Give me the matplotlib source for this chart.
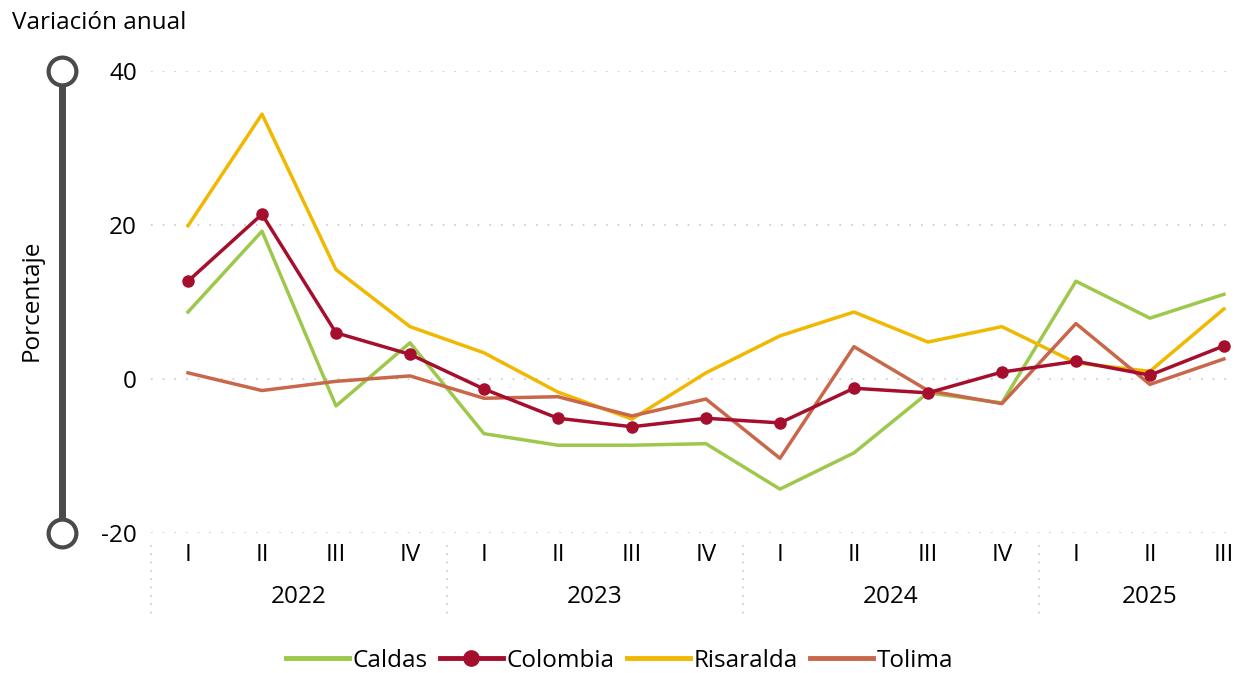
import matplotlib.pyplot as plt
import numpy as np
from matplotlib.lines import Line2D

plt.rcParams['font.family'] = ['Open Sans', 'DejaVu Sans']
plt.rcParams['axes.unicode_minus'] = False

trimestres = ['I', 'II', 'III', 'IV'] * 3 + ['I', 'II', 'III']
anios = ['2022', '2023', '2024', '2025']

caldas = [8.7, 19.2, -3.5, 4.7, -7.1, -8.6, -8.6, -8.4, -14.3, -9.6, -1.8, -3.1, 12.7, 7.9, 11.0]
colombia = [12.7, 21.4, 6.0, 3.2, -1.3, -5.1, -6.2, -5.1, -5.7, -1.2, -1.8, 0.9, 2.3, 0.5, 4.3]
risaralda = [19.9, 34.4, 14.2, 6.8, 3.4, -1.7, -5.2, 0.8, 5.6, 8.7, 4.8, 6.8, 2.1, 1.0, 9.1]
tolima = [0.8, -1.5, -0.3, 0.4, -2.5, -2.3, -4.8, -2.6, -10.3, 4.2, -1.5, -3.2, 7.2, -0.7, 2.6]

fs = 17.5

fig = plt.figure(figsize=(12.39, 6.73), dpi=100)
ax = fig.add_axes([151 / 1239, 1 - 533 / 673, (1235 - 151) / 1239, (533 - 71) / 673])

x = np.arange(len(trimestres))
ax.plot(x, caldas, color='#9DC84B', lw=2.5, label='Caldas', zorder=3)
ax.plot(x, colombia, color='#A50F2D', lw=2.5, marker='o', ms=8, label='Colombia', zorder=5)
ax.plot(x, risaralda, color='#F0B800', lw=2.5, label='Risaralda', zorder=4)
ax.plot(x, tolima, color='#C8674A', lw=2.5, label='Tolima', zorder=4)

ax.set_xlim(-0.5, 14.15)
ax.set_ylim(-20, 40)
ax.set_yticks([-20, 0, 20, 40])
for v in [-20, 0, 20, 40]:
    ax.axhline(v, color='#c8c8c8', lw=1.2, ls=(0, (1, 6)), zorder=1)
for s in ax.spines.values():
    s.set_visible(False)
ax.tick_params(axis='y', length=0, labelsize=fs, pad=10)
ax.set_xticks([])

# etiquetas de trimestre y año
for i, t in enumerate(trimestres):
    ax.text(i, -22.8, t, ha='center', va='center', fontsize=fs, clip_on=False)
for k, a in enumerate(anios):
    ini = 4 * k
    fin = min(4 * k + 3, len(trimestres) - 1)
    ax.text((ini + fin) / 2, -28.3, a, ha='center', va='center', fontsize=fs, clip_on=False)
    ax.add_line(Line2D([ini - 0.5, ini - 0.5], [-21.5, -30.8], color='#c8c8c8', lw=1.2,
                       ls=(0, (1, 4)), clip_on=False))

# barra lateral
fx = 62 / 1239
fig.add_artist(Line2D([fx, fx], [1 - 71 / 673, 1 - 533 / 673], color='#4a4a4a', lw=5,
                      transform=fig.transFigure, zorder=1))
for yy in [71, 533]:
    fig.add_artist(Line2D([fx], [1 - yy / 673], marker='o', ms=20, mfc='white', mec='#4a4a4a',
                          mew=3, transform=fig.transFigure, zorder=2))

fig.text(12 / 1239, 1 - 23 / 673, 'Variación anual', fontsize=fs, va='center', ha='left')
fig.text(32 / 1239, 1 - 300 / 673, 'Porcentaje', fontsize=fs, rotation=90, va='center', ha='center')

leg = fig.legend(loc='center', bbox_to_anchor=(0.5, 1 - 661 / 673), ncol=4, frameon=False,
                 fontsize=fs, handlelength=2.6, handletextpad=0.15, columnspacing=0.5)
for h in leg.legend_handles:
    h.set_linewidth(3.5)
    h.set_markersize(11)

fig.savefig('out.png', dpi=100)
